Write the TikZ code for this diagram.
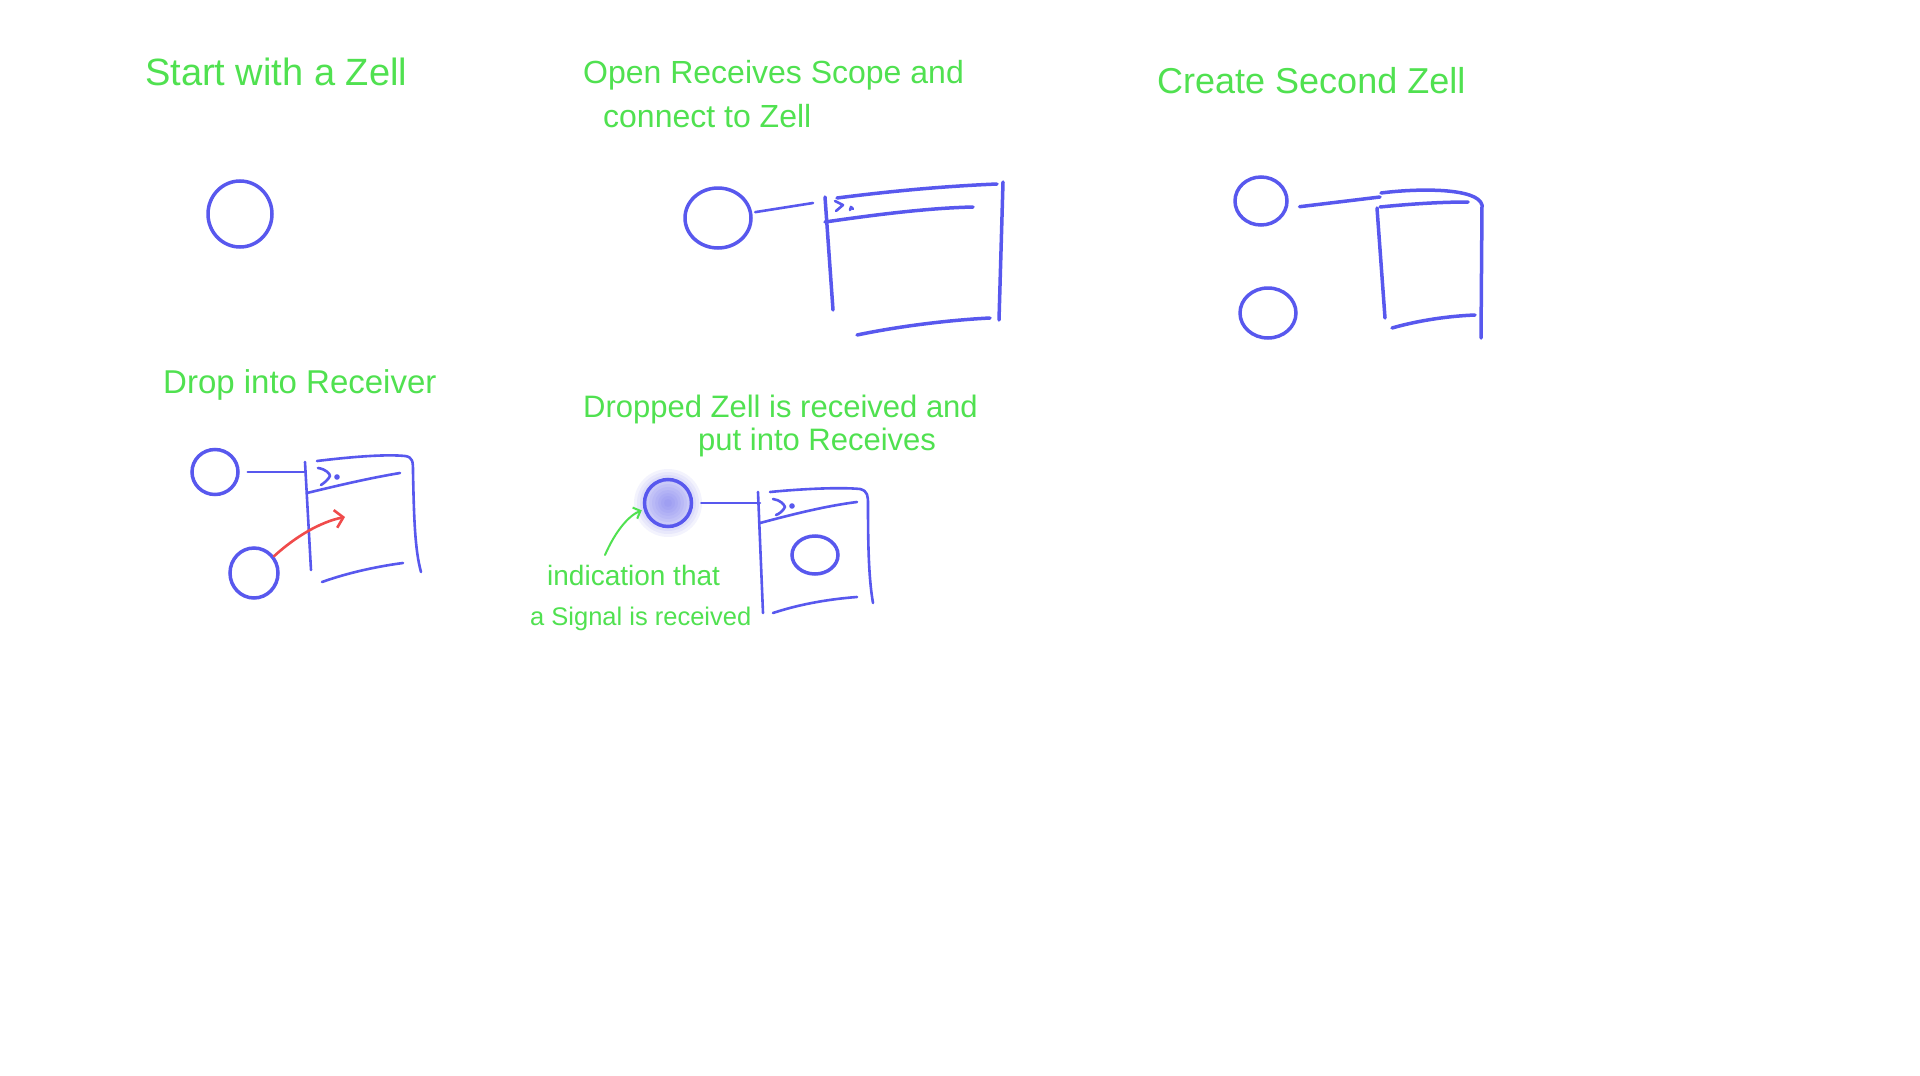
\documentclass[tikz,border=0pt]{standalone}
\usepackage{fontspec}
\setmainfont{Liberation Sans}
\usetikzlibrary{shapes.geometric,arrows.meta}
\definecolor{ink}{RGB}{88,88,238}
\definecolor{chalk}{RGB}{80,225,80}
\definecolor{redink}{RGB}{240,75,75}
\begin{document}
\begin{tikzpicture}[x=1pt,y=-1pt,
  pen/.style={draw=ink,line width=3.5pt,line cap=round,line join=round},
  finepen/.style={draw=ink,line width=2.6pt,line cap=round,line join=round},
  zell/.style={ellipse,draw=ink,line width=3.5pt,inner sep=0pt,minimum width=#1},
  zh/.style={minimum height=#1},
  label/.style={text=chalk,font=\fontsize{#1}{#1}\selectfont,inner sep=0pt,anchor=base west},
  label/.default=32,
  greenarrow/.style={draw=chalk,line width=2pt,line cap=round,-{Straight Barb[length=6pt,width=12pt]}},
  redarrow/.style={draw=redink,line width=2.6pt,line cap=round,-{Straight Barb[length=8pt,width=18pt]}}]

\useasboundingbox[fill=white] (0,0) rectangle (1920,1076);

% ---------- Panel 1 ----------
\node[label=38] (t1) at (145,85) {Start with a Zell};
\node[zell=64,zh=66] (z1) at (240,214) {};

% ---------- Panel 2 ----------
\node[label=32] (t2a) at (583,83) {Open Receives Scope and};
\node[label=32] (t2b) at (603,127) {connect to Zell};
\node[zell=66,zh=60] (z2) at (718,218) {};
\coordinate (b2in) at (813,203);
\draw[finepen,shorten <=3pt] (z2) -- (b2in);
\draw[pen] (825,197) -- (833,310);
\draw[pen] (837,198) .. controls (900,190) and (950,186) .. (997,184);
\draw[pen] (825,222) .. controls (880,214) and (930,208) .. (973,207);
\draw[pen] (1003,182) -- (999,320);
\draw[pen] (857,335) .. controls (900,326) and (950,320) .. (990,318);
\draw[finepen] (835,201) -- (843,205) -- (836,211);
\draw[finepen] (850,210) -- (851,207) -- (853,209);

% ---------- Panel 3 ----------
\node[label=36] (t3) at (1157,93) {Create Second Zell};
\node[zell=52,zh=48] (z3a) at (1261,201) {};
\node[zell=56,zh=50] (z3b) at (1268,313) {};
\coordinate (b3in) at (1380,197);
\draw[pen,shorten <=12pt] (z3a.-15) -- (b3in);
\draw[pen] (1381,193) .. controls (1420,188) and (1478,188) .. (1482,205) -- (1481,338);
\draw[pen] (1380,207) .. controls (1410,204) and (1440,202) .. (1468,202);
\draw[pen] (1377,208) -- (1385,318);
\draw[pen] (1392,328) .. controls (1420,320) and (1450,316) .. (1475,315);

% ---------- Panel 4 ----------
\node[label=33] (t4) at (163,393) {Drop into Receiver};
\node[zell=46,zh=45] (z4a) at (215,472) {};
\node[zell=48,zh=50] (z4b) at (254,573) {};
\coordinate (b4in) at (305,472);
\draw[finepen,shorten <=8pt] (z4a) -- (b4in);
\draw[finepen] (305,462) -- (311,570);
\draw[finepen] (317,461) .. controls (350,457) and (385,454) .. (405,456)
  .. controls (413,457) and (413,462) .. (413,472)
  .. controls (414,520) and (415,550) .. (421,572);
\draw[finepen] (307,493) .. controls (340,485) and (370,478) .. (400,473);
\draw[finepen] (318,468) .. controls (326,469) and (330,474) .. (330,476) .. controls (328,480) and (324,483) .. (321,485);
\fill[ink] (337,477) circle (2.8);
\draw[finepen] (322,582) .. controls (350,572) and (380,566) .. (403,563);
\coordinate (a4) at (345,517);
\draw[redarrow] (z4b.40) .. controls (295,537) and (320,522) .. (a4);

% ---------- Panel 5 ----------
\node[label=31] (t5a) at (583,417) {Dropped Zell is received and};
\node[label=31] (t5b) at (698,450) {put into Receives};
\foreach \r in {34,31,...,4} {\fill[ink,opacity=0.07] (668,503) circle (\r);}
\node[zell=47,zh=47] (z5) at (668,503) {};
\coordinate (b5in) at (760,503);
\draw[finepen,shorten <=8pt] (z5) -- (b5in);
\draw[finepen] (758,492) -- (763,613);
\draw[finepen] (770,492) .. controls (800,489) and (840,487) .. (860,489)
  .. controls (868,491) and (868,496) .. (868,505)
  .. controls (868,550) and (869,580) .. (873,603);
\draw[finepen] (760,523) .. controls (790,515) and (825,506) .. (857,502);
\draw[finepen] (773,499) .. controls (780,500) and (784,504) .. (785,507) .. controls (783,511) and (779,514) .. (776,515);
\fill[ink] (792,506) circle (2.8);
\node[zell=46,zh=38] (z5b) at (815,555) {};
\draw[finepen] (773,613) .. controls (800,604) and (830,599) .. (857,597);
\node[label=28] (n5a) at (547,585) {indication that};
\node[label=25.5] (n5b) at (530,625) {a Signal is received};
\coordinate (g5) at (605,555);
\draw[greenarrow,shorten >=2pt] (g5) .. controls (615,532) and (628,516) .. (z5.195);

\end{tikzpicture}
\end{document}
